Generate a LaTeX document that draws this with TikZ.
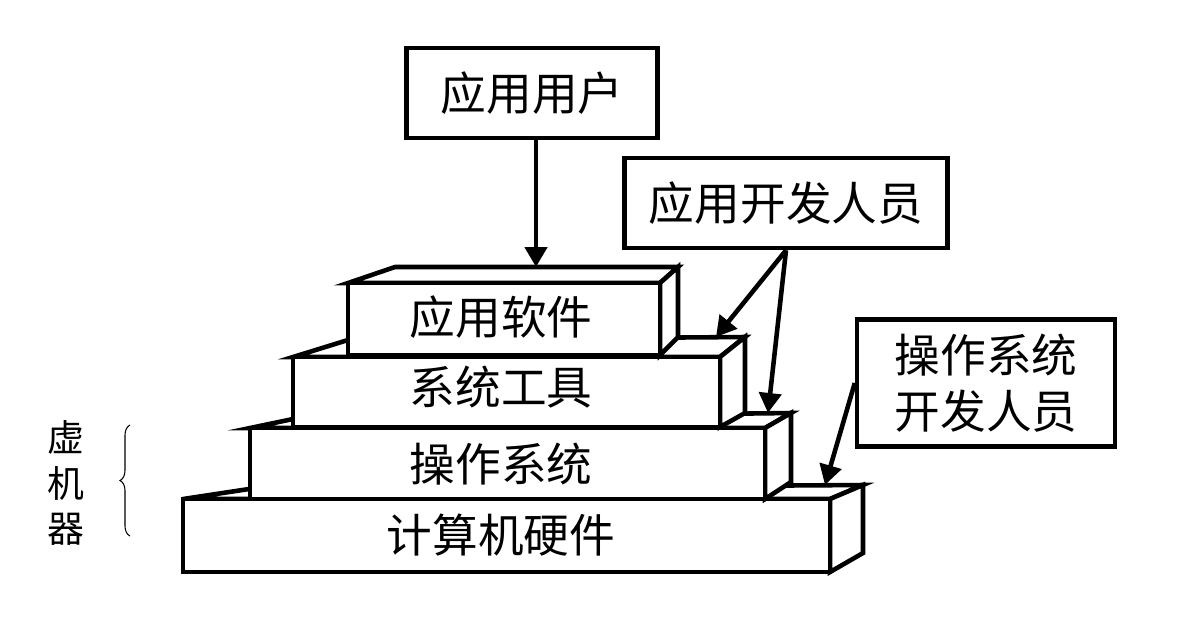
\documentclass[tikz,border=0pt]{standalone}
\usepackage{fontspec}
\newfontfamily\cjk{Noto Sans CJK SC}
\usetikzlibrary{positioning, arrows.meta, decorations.pathreplacing}

\begin{document}
\begin{tikzpicture}[
    x=0.02cm, y=-0.02cm,
    line width=2.6pt,
    every node/.style={font=\cjk\fontsize{26}{32}\selectfont},
    face/.style={draw, fill=white},
    labelbox/.style={draw, fill=white, inner sep=0pt},
    arr/.style={-{Triangle[length=0.4cm, width=0.44cm]}},
  ]
  \useasboundingbox (0,0) rectangle (1189,627);

  % Hardware layer (bottom)
  \draw[face] (183,499) -- (249,489) -- (863,485) -- (830,499) -- cycle;
  \draw[face] (830,499) -- (863,485) -- (863,553) -- (830,572) -- cycle;
  \draw[face] (183,499) rectangle (830,572);
  \node (hw) at (501,535) {计算机硬件};

  % Operating system layer
  \draw[face] (250,428) -- (293,419) -- (791,413) -- (765,428) -- cycle;
  \draw[face] (765,428) -- (791,413) -- (791,482) -- (765,499) -- cycle;
  \draw[face] (250,428) rectangle (765,499);
  \node (os) at (501,464) {操作系统};

  % System tools layer
  \draw[face] (293,357) -- (348,340) -- (745,337) -- (720,357) -- cycle;
  \draw[face] (720,357) -- (745,337) -- (745,413) -- (720,427) -- cycle;
  \draw[face] (293,357) rectangle (720,427);
  \node (tools) at (501,387) {系统工具};

  % Application software layer (top)
  \draw[face] (348,283) -- (395,267) -- (678,267) -- (660,283) -- cycle;
  \draw[face] (660,283) -- (678,267) -- (678,337) -- (660,355) -- cycle;
  \draw[face] (348,283) rectangle (660,355);
  \node (apps) at (501,317) {应用软件};

  % People boxes
  \node[labelbox, minimum width=5.02cm, minimum height=1.8cm] (user) at (532,93) {应用用户};
  \node[labelbox, minimum width=6.46cm, minimum height=1.8cm] (appdev) at (786,203) {应用开发人员};
  \node[labelbox, minimum width=5.16cm, minimum height=2.54cm, align=center] (osdev) at (986,383) {操作系统\\开发人员};

  % Arrow targets on the top faces
  \coordinate (appsTop) at (536,267);
  \coordinate (toolsTop) at (716,337);
  \coordinate (osTop) at (768,413);
  \coordinate (hwTop) at (825,485);

  \draw[arr] (user.south -| appsTop) -- (appsTop);
  \draw[arr] (appdev.south) -- (toolsTop);
  \draw[arr] (appdev.south) -- (osTop);
  \draw[arr] (osdev.west) -- (hwTop);

  % Virtual machine brace
  \draw[decorate, decoration={brace, amplitude=0.2cm}, line width=0.6pt] (130,536) -- (130,425);
  \node[font=\cjk\fontsize{21}{26}\selectfont, align=center] (vm) at (66,483) {虚\\机\\器};
\end{tikzpicture}
\end{document}
